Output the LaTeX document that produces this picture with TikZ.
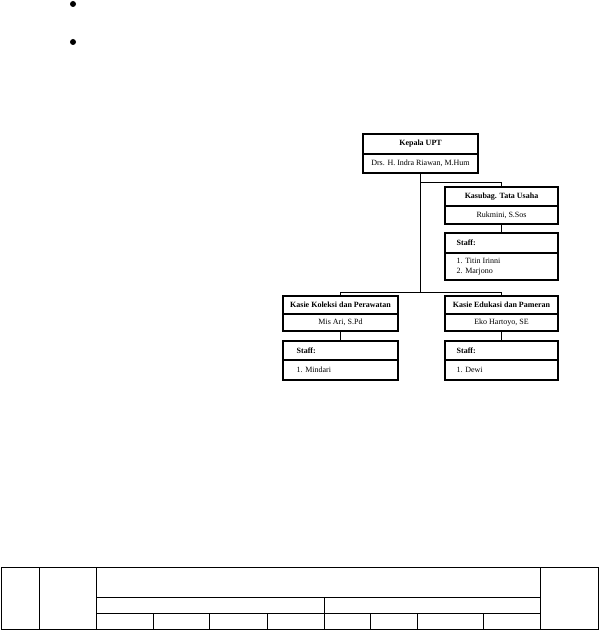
\documentclass[tikz,border=0pt]{standalone}
\usepackage{fontspec}
\setmainfont{Liberation Serif}
\begin{document}
\begin{tikzpicture}[x=1pt,y=-1pt,
  cellbox/.style={draw, line width=1.1pt, inner sep=0pt, align=center,
    font=\fontsize{8}{9.6}\selectfont},
  titlecell/.style={cellbox, font=\fontsize{8}{9.6}\selectfont\bfseries},
  wideb/.style={minimum width=115pt},
  narrowb/.style={minimum width=113pt},
  stafftxt/.style={anchor=west, inner sep=0pt, align=left,
    font=\fontsize{8}{10}\selectfont},
  conn/.style={line width=0.9pt},
  tabline/.style={line width=0.8pt},
  bulletdot/.style={fill=black, circle, inner sep=0pt, minimum size=6pt}
]
\useasboundingbox (0,0) rectangle (599,631);

% bullets
\node[bulletdot] (b1) at (73,4) {};
\node[bulletdot] (b2) at (73,42) {};

% Kepala UPT
\node[titlecell, wideb, minimum height=20pt] (kepT) at (420.5,144) {Kepala UPT};
\node[cellbox, wideb, minimum height=19pt] (kepN) at (420.5,163.5) {Drs. H. Indra Riawan, M.Hum};

% Kasubag
\node[titlecell, narrowb, minimum height=19pt] (kasT) at (501.5,196.5) {Kasubag. Tata Usaha};
\node[cellbox, narrowb, minimum height=18pt] (kasN) at (501.5,215) {Rukmini, S.Sos};
\node[cellbox, narrowb, minimum height=20pt] (kasST) at (501.5,243) {};
\node[cellbox, narrowb, minimum height=27pt] (kasSN) at (501.5,266.5) {};
\node[stafftxt, font=\fontsize{8}{10}\selectfont\bfseries] (kasSTt) at ([xshift=12pt]kasST.west) {Staff:};
\node[stafftxt] (kasSNt) at ([xshift=12pt]kasSN.west) {1. Titin Irinni\\2. Marjono};

% Kasie Koleksi
\node[titlecell, wideb, minimum height=18pt] (kolT) at (340.5,305) {Kasie Koleksi dan Perawatan};
\node[cellbox, wideb, minimum height=17pt] (kolN) at (340.5,322.5) {Mis Ari, S.Pd};
\node[cellbox, wideb, minimum height=19pt] (kolST) at (340.5,350.5) {};
\node[cellbox, wideb, minimum height=20pt] (kolSN) at (340.5,370) {};
\node[stafftxt, font=\fontsize{8}{10}\selectfont\bfseries] (kolSTt) at ([xshift=14pt]kolST.west) {Staff:};
\node[stafftxt] (kolSNt) at ([xshift=14pt]kolSN.west) {1. Mindari};

% Kasie Edukasi
\node[titlecell, narrowb, minimum height=18pt] (eduT) at (501.5,305) {Kasie Edukasi dan Pameran};
\node[cellbox, narrowb, minimum height=17pt] (eduN) at (501.5,322.5) {Eko Hartoyo, SE};
\node[cellbox, narrowb, minimum height=19pt] (eduST) at (501.5,350.5) {};
\node[cellbox, narrowb, minimum height=20pt] (eduSN) at (501.5,370) {};
\node[stafftxt, font=\fontsize{8}{10}\selectfont\bfseries] (eduSTt) at ([xshift=12pt]eduST.west) {Staff:};
\node[stafftxt] (eduSNt) at ([xshift=12pt]eduSN.west) {1. Dewi};

% connectors
\coordinate (bus) at (0,292);
\coordinate (kasbus) at (0,182);
\draw[conn] (kepN.south) -- (kepN.south |- bus);
\draw[conn] (kolT.north) -- (kolT.north |- bus) -- (eduT.north |- bus) -- (eduT.north);
\draw[conn] (kepN.south |- kasbus) -- (kasT.north |- kasbus) -- (kasT.north);
\draw[conn] (kasN.south) -- (kasST.north);
\draw[conn] (kolN.south) -- (kolST.north);
\draw[conn] (eduN.south) -- (eduST.north);

% table
\draw[tabline] (1,567) rectangle (598,629);
\draw[tabline] (39,567) -- (39,629);
\draw[tabline] (96,567) -- (96,629);
\draw[tabline] (540,567) -- (540,629);
\draw[tabline] (96,597) -- (540,597);
\draw[tabline] (96,613) -- (540,613);
\draw[tabline] (324,597) -- (324,629);
\foreach \xx in {153,209,267,370,417,483} {
  \draw[tabline] (\xx,613) -- (\xx,629);
}
\end{tikzpicture}
\end{document}
